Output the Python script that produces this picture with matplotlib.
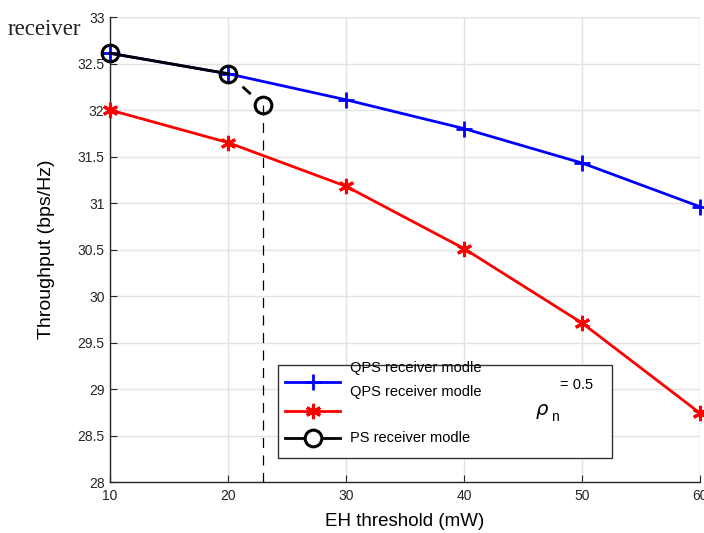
import matplotlib
matplotlib.use("Agg")
import matplotlib.pyplot as plt
from matplotlib.lines import Line2D
from matplotlib.patches import Rectangle

plt.rcParams['font.family'] = ['Liberation Sans', 'DejaVu Sans']

# EH threshold (mW) and throughput (bps/Hz)
eh = [10, 20, 30, 40, 50, 60]
qps_blue = [32.61, 32.39, 32.11, 31.80, 31.43, 30.96]
qps_red = [32.00, 31.65, 31.18, 30.51, 29.71, 28.74]
ps_eh = [10, 20]
ps_thr = [32.61, 32.39]
ps_end_eh = 23.0
ps_end_thr = 32.05

xticks = [10, 20, 30, 40, 50, 60]
yticks = [28, 28.5, 29, 29.5, 30, 30.5, 31, 31.5, 32, 32.5, 33]
ytick_labels = ['28', '28.5', '29', '29.5', '30', '30.5', '31', '31.5', '32', '32.5', '33']

W, H = 704, 533
fig = plt.figure(figsize=(W / 100, H / 100), dpi=100)
fig.text(8 / W, 1 - 35 / H, 'receiver', family=['Liberation Serif'], fontsize=16.5,
         color='#222222', va='baseline')

ax = fig.add_axes([110 / W, (H - 482) / H, (700 - 110) / W, (482 - 17) / H])

ax.plot(eh, qps_blue, color='blue', lw=2, marker='+', ms=12, mew=2, clip_on=False, zorder=3)
ax.plot(eh, qps_red, color='red', lw=2, marker=(6, 2, 0), ms=11, mew=2.2, clip_on=False, zorder=3)
ax.plot(ps_eh, ps_thr, color='black', lw=2, marker='o', ms=12, mew=2.2,
        mfc='none', clip_on=False, zorder=4)
# dashed continuation to the PS operating point and drop to the axis
ax.plot([ps_eh[-1], ps_end_eh], [ps_thr[-1], ps_end_thr], color='black', lw=2,
        ls=(17, (4, 20)), zorder=4)
ax.plot([ps_end_eh], [ps_end_thr], color='black', marker='o', ms=12, mew=2.2,
        mfc='none', zorder=4)
ax.plot([ps_end_eh, ps_end_eh], [ps_end_thr, 28], color='black', lw=0.9,
        ls=(0, (8, 6)), zorder=2)

ax.set_xlim(10, 60)
ax.set_ylim(28, 33)
ax.set_xticks(xticks)
ax.set_yticks(yticks)
ax.set_yticklabels(ytick_labels)
ax.tick_params(direction='in', length=5, labelsize=10, colors='#262626')
ax.tick_params(axis='y', pad=4)
ax.tick_params(axis='x', pad=5)
ax.grid(True, color='#e3e3e3', lw=1)
ax.set_axisbelow(True)
for s in ['top', 'right']:
    ax.spines[s].set_visible(False)
for s in ['left', 'bottom']:
    ax.spines[s].set_color('#262626')
    ax.spines[s].set_linewidth(1)
ax.axhline(33, color='#e3e3e3', lw=1, zorder=0)
ax.axvline(60, color='#e3e3e3', lw=1, zorder=0)

ax.set_xlabel('EH threshold (mW)', fontsize=13.5, labelpad=7)
ax.set_ylabel('Throughput (bps/Hz)', fontsize=14, labelpad=16)

# legend box drawn by hand
tr = ax.transAxes
ax.add_patch(Rectangle((0.285, 0.052), 0.566, 0.200, transform=tr, fc='white',
                       ec='#333333', lw=1, zorder=5, clip_on=False))
ax.add_line(Line2D([0.297, 0.3435, 0.390], [0.215] * 3, transform=tr, color='blue', lw=2,
                   marker='+', ms=12, mew=2, markevery=[1], zorder=6))
ax.add_line(Line2D([0.297, 0.3435, 0.390], [0.153] * 3, transform=tr, color='red', lw=2,
                   marker=(6, 2, 0), ms=11, mew=2.2, markevery=[1], zorder=6))
ax.add_line(Line2D([0.297, 0.3435, 0.390], [0.095] * 3, transform=tr, color='black', lw=2,
                   marker='o', ms=12, mew=2.2, mfc='white', markevery=[1], zorder=6))
ax.text(0.407, 0.245, 'QPS receiver modle', transform=tr, fontsize=10.5, va='center', zorder=7)
ax.text(0.407, 0.194, 'QPS receiver modle', transform=tr, fontsize=10.5, va='center', zorder=7)
ax.text(0.407, 0.095, 'PS receiver modle', transform=tr, fontsize=10.5, va='center', zorder=7)
ax.text(0.720, 0.151, r'$\rho$', transform=tr, fontsize=14, va='center', zorder=7)
ax.text(0.747, 0.140, 'n', transform=tr, fontsize=10, va='center', zorder=7)
ax.text(0.763, 0.209, '= 0.5', transform=tr, fontsize=10.5, va='center', zorder=7)

fig.savefig('out.png', dpi=100)
